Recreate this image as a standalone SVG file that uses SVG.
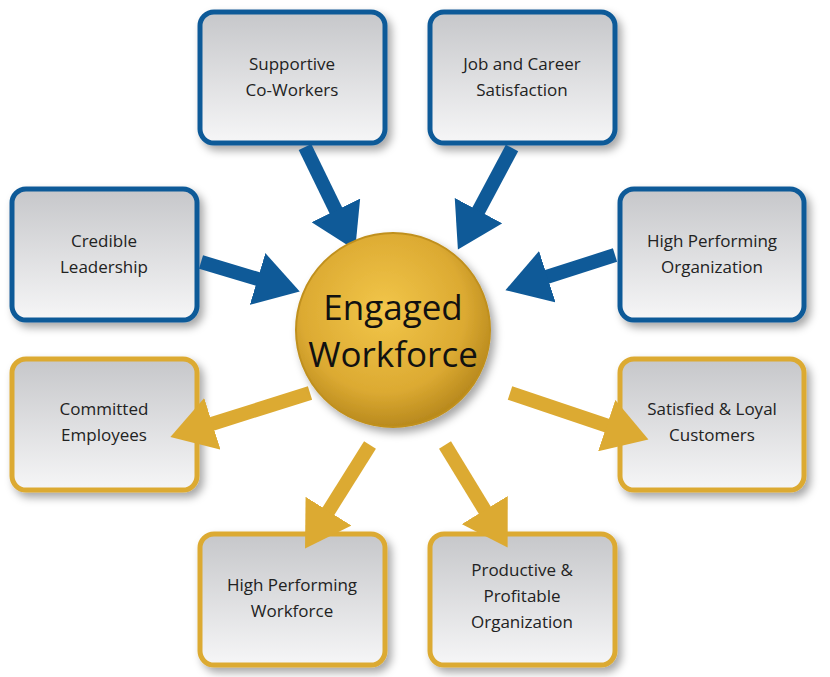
<svg xmlns="http://www.w3.org/2000/svg" width="830" height="677" viewBox="0 0 830 677">
<defs>
<linearGradient id="bg" x1="0" y1="0" x2="0" y2="1"><stop offset="0" stop-color="#c6c7ca"/><stop offset="1" stop-color="#f6f6f7"/></linearGradient>
<radialGradient id="cg" cx="0.45" cy="0.4" r="0.6"><stop offset="0" stop-color="#f2c64a"/><stop offset="0.7" stop-color="#dcaa32"/><stop offset="1" stop-color="#b98a1e"/></radialGradient>
<filter id="sh" x="-20%" y="-20%" width="150%" height="150%"><feDropShadow dx="4" dy="5" stdDeviation="4" flood-color="#000" flood-opacity="0.35"/></filter>
<marker id="hb" markerUnits="userSpaceOnUse" markerWidth="48" markerHeight="54" refX="14" refY="27" orient="auto"><path d="M0,0 L44,27 L0,54 z" fill="#0f5a98"/></marker>
<marker id="hg" markerUnits="userSpaceOnUse" markerWidth="48" markerHeight="54" refX="14" refY="27" orient="auto"><path d="M0,0 L44,27 L0,54 z" fill="#dcaa32"/></marker>
</defs>
<style>
.b{fill:url(#bg);stroke-width:5;filter:url(#sh)}
.bl{stroke:#0f5a98}.gd{stroke:#dcaa32}
text{font-family:"Open Sans","Liberation Sans",sans-serif;font-size:17px;fill:#222;text-anchor:middle}
.ab{stroke:#0f5a98;stroke-width:14;marker-end:url(#hb)}
.ag{stroke:#dcaa32;stroke-width:14;marker-end:url(#hg)}
</style>
<g id="n1"><rect class="b bl" x="200" y="12" width="185" height="131" rx="14"/><text x="292" y="70">Supportive</text><text x="292" y="96">Co-Workers</text></g>
<g id="n2"><rect class="b bl" x="430" y="12" width="185" height="131" rx="14"/><text x="522" y="70">Job and Career</text><text x="522" y="96">Satisfaction</text></g>
<g id="n3"><rect class="b bl" x="12" y="189" width="185" height="131" rx="14"/><text x="104" y="247">Credible</text><text x="104" y="273">Leadership</text></g>
<g id="n4"><rect class="b bl" x="620" y="189" width="184" height="131" rx="14"/><text x="712" y="247">High Performing</text><text x="712" y="273">Organization</text></g>
<g id="n5"><rect class="b gd" x="12" y="359" width="185" height="131" rx="14"/><text x="104" y="415">Committed</text><text x="104" y="441">Employees</text></g>
<g id="n6"><rect class="b gd" x="620" y="359" width="184" height="131" rx="14"/><text x="712" y="415">Satisfied &amp; Loyal</text><text x="712" y="441">Customers</text></g>
<g id="n7"><rect class="b gd" x="200" y="534" width="185" height="131" rx="14"/><text x="292" y="591">High Performing</text><text x="292" y="617">Workforce</text></g>
<g id="n8"><rect class="b gd" x="430" y="534" width="185" height="131" rx="14"/><text x="522" y="576">Productive &amp;</text><text x="522" y="602">Profitable</text><text x="522" y="628">Organization</text></g>
<g id="connectors">
<line class="ab" x1="305" y1="147" x2="342" y2="223"/>
<line class="ab" x1="512" y1="148" x2="472" y2="223"/>
<line class="ab" x1="201" y1="262" x2="271" y2="283"/>
<line class="ab" x1="615" y1="255" x2="534" y2="281"/>
<line class="ag" x1="310" y1="393" x2="199" y2="428"/>
<line class="ag" x1="510" y1="393" x2="620" y2="430"/>
<line class="ag" x1="370" y1="445" x2="321" y2="523"/>
<line class="ag" x1="445" y1="445" x2="492" y2="522"/>
</g>
<g id="center"><circle cx="393" cy="330" r="97" fill="url(#cg)" stroke="#c0901f" stroke-width="2" filter="url(#sh)"/><text x="393" y="320" style="font-size:35px;fill:#111">Engaged</text><text x="393" y="367" style="font-size:35px;fill:#111">Workforce</text></g>
</svg>
